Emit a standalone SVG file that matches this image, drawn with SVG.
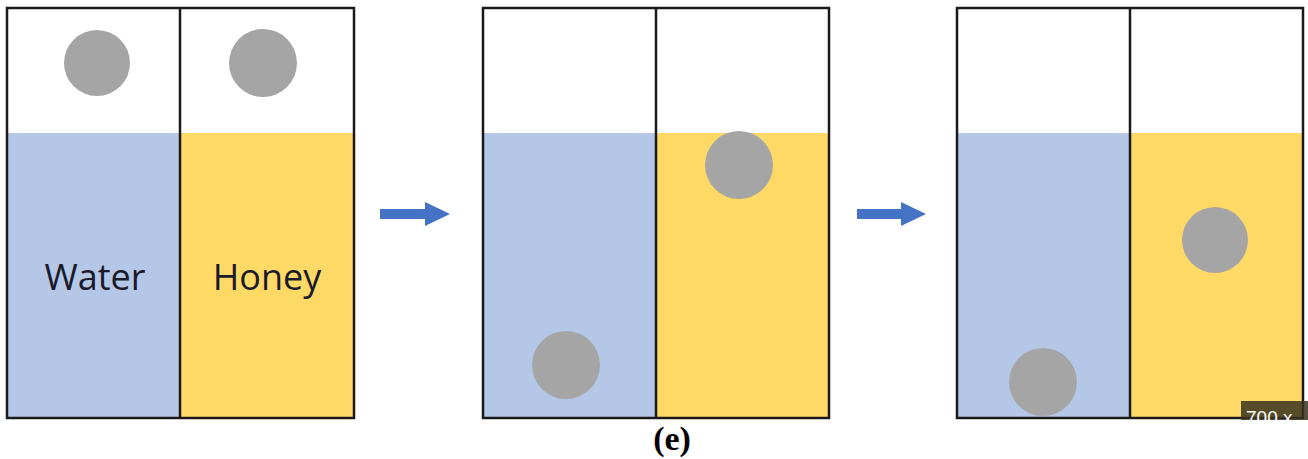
<svg xmlns="http://www.w3.org/2000/svg" width="1308" height="459" viewBox="0 0 1308 459">
<defs>
<clipPath id="wm"><rect x="1241" y="400" width="67" height="20"/></clipPath>
</defs>
<style>
.water{fill:#B4C7E7}
.honey{fill:#FFD966}
.frame{fill:none;stroke:#1a1a1a;stroke-width:2.5}
.div{stroke:#1a1a1a;stroke-width:2.5}
.ball{fill:#A5A5A5}
.lbl{font-family:"Open Sans","Noto Sans",sans-serif;font-size:36px;fill:#1a1a2a}
.arrow{fill:#4472C4}
</style>
<rect width="1308" height="459" fill="#ffffff"/>
<g id="panel1">
<rect class="water" x="7" y="133" width="173" height="285"/>
<rect class="honey" x="180" y="133" width="174" height="285"/>
<circle class="ball" cx="97" cy="63" r="33"/>
<circle class="ball" cx="263" cy="63" r="34"/>
<text class="lbl" x="95" y="290" text-anchor="middle">Water</text>
<text class="lbl" x="267" y="290" text-anchor="middle" fill="#1a1a1a">Honey</text>
<rect class="frame" x="7" y="8" width="347" height="410"/>
<line class="div" x1="180" y1="8" x2="180" y2="418"/>
</g>
<g id="panel2">
<rect class="water" x="483" y="133" width="173" height="285"/>
<rect class="honey" x="656" y="133" width="173" height="285"/>
<circle class="ball" cx="739" cy="165" r="34"/>
<circle class="ball" cx="566" cy="365" r="34"/>
<rect class="frame" x="483" y="8" width="346" height="410"/>
<line class="div" x1="656" y1="8" x2="656" y2="418"/>
</g>
<g id="panel3">
<rect class="water" x="957" y="133" width="173" height="285"/>
<rect class="honey" x="1130" y="133" width="173" height="285"/>
<circle class="ball" cx="1215" cy="240" r="33"/>
<circle class="ball" cx="1043" cy="382" r="34"/>
<rect class="frame" x="957" y="8" width="346" height="410"/>
<line class="div" x1="1130" y1="8" x2="1130" y2="418"/>
</g>
<g id="connectors">
<polygon class="arrow" points="380,209 425,209 425,202 450,214 425,226 425,219 380,219"/>
<polygon class="arrow" points="857,209 901,209 901,202 926,214 901,226 901,219 857,219"/>
</g>
<g id="watermark" clip-path="url(#wm)">
<rect x="1241" y="401" width="67" height="19" fill="#3a3320" opacity="0.85"/>
<text x="1246" y="424" font-family="Liberation Sans,sans-serif" font-size="19" fill="#ffffff">700 x</text>
</g>
<text x="672" y="450" text-anchor="middle" font-family="Liberation Serif,serif" font-weight="bold" font-size="34" fill="#000">(e)</text>
</svg>
